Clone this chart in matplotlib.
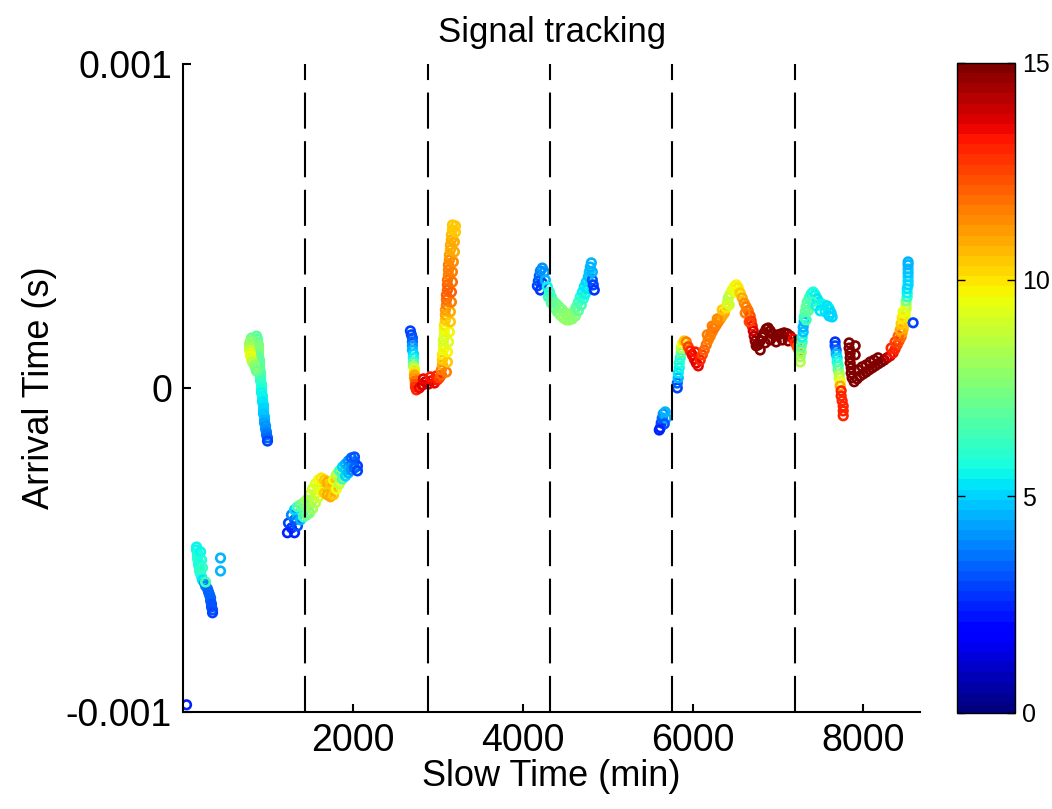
import numpy as np
import matplotlib
matplotlib.use('Agg')
import matplotlib.pyplot as plt
from matplotlib.colors import Normalize
from matplotlib.cm import ScalarMappable

plt.rcParams['font.family'] = ['Liberation Sans', 'DejaVu Sans']
plt.rcParams['lines.scale_dashes'] = False

# tracked arrivals: slow time (min), arrival time (us), snr (colour)
seg1_t = [41]
seg1_us = [-978]
seg1_snr = [2.5]

seg2_t = [159, 159, 171, 171, 171, 182, 182, 194, 194, 206, 218, 229, 253, 265,
          288, 300, 312, 324, 324, 335, 335, 347, 347,
          206, 218, 229, 265, 441, 441]
seg2_us = [-491, -500, -509, -518, -528, -537, -546, -555, -565, -574, -583, -593,
           -602, -611, -620, -630, -639, -648, -657, -667, -676, -685, -694,
           -506, -531, -555, -599, -525, -565]
seg2_snr = [5.5, 5.5, 5.7, 5.8, 6.0, 6.0, 5.8, 5.8, 6.0, 6.0, 6.0, 5.2, 4.2, 3.8,
            3.6, 3.5, 3.5, 3.4, 3.3, 3.2, 3.2, 3.1, 3.0,
            5.6, 5.8, 6.2, 6.5, 4.5, 4.5]

seg3_t = [865, 876, 876, 888, 888, 888, 888, 888, 900, 900, 900, 900, 912, 912,
          912, 912, 924, 924, 924, 924, 935, 935, 935, 947, 947, 947, 947, 959,
          959, 959, 971, 971, 982, 982, 994, 994,
          806, 794, 782, 782, 782, 794, 794, 806, 818, 841, 853, 865]
seg3_us = [160, 151, 142, 133, 123, 114, 105, 96, 86, 77, 68, 59, 49, 40, 31, 22,
           12, 3, -6, -15, -25, -34, -43, -52, -62, -71, -80, -89, -99, -108,
           -117, -127, -136, -145, -154, -164,
           154, 145, 136, 127, 117, 108, 99, 89, 80, 71, 62, 52]
seg3_snr = [7.0, 7.0, 7.2, 7.3, 7.5, 7.5, 7.3, 7.2, 7.0, 7.0, 7.0, 6.8, 6.8, 6.6,
            6.5, 6.3, 6.2, 6.0, 5.8, 5.6, 5.5, 5.4, 5.3, 5.2, 5.1, 5.0, 4.9, 4.8,
            4.6, 4.4, 4.2, 4.0, 3.8, 3.6, 3.3, 3.0,
            7.2, 7.5, 7.8, 8.2, 8.8, 9.2, 9.5, 9.2, 8.5, 7.8, 7.5, 7.2]

seg4_t = [1276, 1312, 1347, 1382, 1418, 1453, 1488, 1524, 1559, 1594, 1629, 1665,
          1700, 1735, 1771, 1806, 1841, 1876, 1912, 1947, 1982, 2018, 2053,
          1241, 1276, 1312, 1347, 1382, 1418, 1453, 1488, 1524, 1559, 1594, 1629,
          1665, 1700, 1735, 1771, 1806, 1841, 1876, 1912, 1947, 1982, 2018,
          1312, 1347, 1382, 1418, 1453, 1488, 1524, 1559, 1594, 1629, 1665, 1700,
          1735, 1771, 1806, 1841, 1876, 1912, 1947, 1982, 2018, 2053, 1229]
seg4_us = [-432, -407, -392, -383, -376, -370, -361, -346, -327, -312, -299, -302,
           -309, -315, -309, -290, -275, -262, -253, -244, -235, -228, -241,
           -417, -392, -376, -367, -361, -355, -346, -330, -312, -296, -284, -278,
           -284, -290, -296, -284, -268, -256, -244, -235, -225, -216, -213,
           -447, -426, -407, -398, -392, -386, -373, -355, -336, -321, -324, -330,
           -336, -330, -312, -296, -281, -272, -262, -253, -247, -256, -447]
seg4_snr = [2.8, 3.5, 4.5, 6.5, 7.3, 7.5, 8.0, 8.5, 9.0, 9.5, 10.0, 10.8, 11.3,
            11.0, 10.0, 9.0, 7.0, 5.5, 4.5, 4.0, 3.5, 3.2, 3.0,
            3.0, 3.8, 5.0, 6.5, 7.2, 7.5, 8.0, 8.5, 9.0, 9.3, 9.5, 10.0, 10.5,
            11.0, 10.5, 9.5, 8.5, 6.5, 5.0, 4.5, 4.0, 3.5, 3.2,
            2.5, 3.2, 4.5, 6.5, 7.2, 7.5, 8.0, 8.5, 9.0, 9.5, 10.5, 11.0, 11.0,
            10.5, 9.5, 8.5, 6.5, 5.0, 4.5, 4.0, 3.5, 3.0, 2.5]

seg5_t = [2676, 2688, 2700, 2700, 2700, 2700, 2712, 2712, 2712, 2712, 2724, 2724,
          2724, 2724, 2735, 2735, 2735, 2747,
          2782, 2818, 2853, 2888, 2923, 2959, 2994, 2829, 2912, 2982, 3018,
          3041, 3041, 3053, 3053, 3053, 3065, 3065, 3065, 3076, 3076, 3076, 3088,
          3088, 3088, 3100, 3100, 3100, 3112, 3112, 3112, 3124, 3124, 3124, 3135,
          3135, 3147, 3147, 3159, 3159, 3171, 3171,
          3100, 3112, 3112, 3124, 3135, 3147, 3147, 3159, 3159, 3171, 3171, 3182,
          3194, 3194, 3206, 3206]
seg5_us = [176, 164, 154, 142, 130, 117, 105, 93, 80, 68, 59, 49, 40, 31, 22, 12,
           3, -6,
           0, 9, 19, 12, 22, 15, 25, 28, 34, 37, 31,
           40, 56, 71, 86, 102, 117, 133, 148, 164, 179, 194, 210, 225, 241, 256,
           272, 287, 302, 318, 333, 349, 364, 380, 395, 410, 426, 441, 457, 472,
           488, 503,
           49, 80, 111, 142, 173, 204, 235, 265, 296, 327, 358, 389, 420, 451,
           481, 500]
seg5_snr = [3.0, 3.0, 3.2, 3.5, 4.0, 4.5, 5.0, 5.5, 6.5, 8.0, 9.0, 10.0, 10.8,
            11.2, 11.8, 12.3, 12.8, 13.0,
            13.5, 13.8, 14.0, 13.8, 13.5, 13.5, 13.2, 13.5, 13.2, 13.0, 12.5,
            12.0, 11.5, 11.0, 10.5, 10.0, 9.5, 9.2, 9.0, 9.2, 9.5, 10.0, 10.5,
            11.0, 11.2, 11.5, 11.8, 12.0, 12.0, 12.0, 11.8, 11.7, 11.5, 11.5,
            11.3, 11.2, 11.0, 11.0, 10.8, 10.7, 10.5, 10.5,
            11.5, 10.5, 9.8, 9.3, 9.8, 10.5, 11.0, 11.5, 12.0, 11.8, 11.5, 11.3,
            11.0, 10.8, 10.5, 10.5]

seg6_t = [4171, 4182, 4194, 4206, 4229, 4253, 4229, 4206, 4265, 4288, 4312, 4335,
          4359, 4394, 4429, 4465, 4500, 4535, 4571, 4606, 4629, 4653, 4676, 4700,
          4723, 4747, 4771, 4782, 4794, 4806,
          4300, 4335, 4371, 4406, 4441, 4476, 4512, 4547, 4582, 4618, 4653, 4688,
          4712, 4735, 4759,
          4818, 4829, 4841, 4818]
seg6_us = [315, 330, 346, 361, 370, 358, 324, 302, 333, 312, 296, 281, 268, 259,
           250, 241, 231, 225, 228, 238, 250, 265, 281, 296, 312, 327, 343, 358,
           373, 386,
           281, 262, 247, 235, 225, 216, 210, 210, 213, 222, 238, 256, 275, 290,
           306,
           333, 318, 302, 358]
seg6_snr = [3.0, 3.2, 3.5, 3.8, 4.2, 4.0, 3.0, 2.8, 4.5, 5.5, 6.0, 6.5, 7.0, 7.2,
            7.3, 7.5, 7.6, 7.8, 7.8, 7.5, 7.0, 6.5, 6.0, 5.5, 5.3, 5.0, 4.8, 4.7,
            4.6, 4.5,
            6.2, 6.8, 7.2, 7.4, 7.6, 7.8, 7.9, 7.9, 7.8, 7.5, 7.0, 6.5, 6.0, 5.5,
            5.2,
            3.2, 3.0, 2.8, 4.5]

seg7_t = [5618, 5629, 5641, 5653, 5676, 5688, 5665, 5606,
          5818, 5818, 5829, 5829, 5841, 5841, 5853, 5865, 5865, 5876, 5900, 5924,
          5947, 5971, 5994, 6018, 6041, 6065, 6029, 6088, 6112,
          6135, 6159, 6182, 6206, 6229, 6253, 6276, 6300, 6324, 6347, 6371, 6171,
          6229, 6288, 6347,
          6394, 6406, 6418, 6441, 6465, 6488, 6512, 6535, 6429, 6500,
          6559, 6582, 6606, 6629, 6653, 6676, 6688, 6700, 6712, 6723, 6735, 6747,
          6618, 6665,
          6771, 6794, 6818, 6841, 6865, 6888, 6912, 6935, 6971, 7006, 7041, 7076,
          7112, 7147, 6794, 6853, 6912, 6982, 7053, 7124,
          7182, 7206, 7229, 7253]
seg7_us = [-123, -108, -93, -80, -74, -93, -111, -130,
           0, 15, 31, 46, 62, 77, 93, 108, 123, 136, 145, 142,
           127, 114, 102, 89, 77, 68, 111, 86, 102,
           117, 133, 148, 160, 173, 185, 194, 204, 213, 222, 231, 164, 191, 213,
           241,
           247, 262, 278, 290, 302, 312, 318, 309, 256, 296,
           293, 278, 262, 250, 238, 222, 207, 191, 176, 160, 145, 130, 231, 204,
           133, 145, 157, 170, 182, 185, 176, 167, 160, 164, 167, 170, 167, 160,
           117, 139, 148, 142, 148, 145,
           151, 139, 127, 114]
seg7_snr = [2.5, 3.0, 3.5, 4.2, 4.5, 4.5, 3.2, 2.5,
            3.0, 3.5, 4.5, 5.2, 5.5, 5.7, 6.0, 7.0, 8.5, 9.5, 10.5, 11.5,
            12.5, 13.0, 13.5, 13.5, 13.8, 13.5, 13.2, 13.0, 12.5,
            12.0, 11.8, 11.5, 11.5, 11.7, 11.8, 11.7, 11.5, 11.3, 11.0, 10.8,
            11.5, 11.5, 11.3, 10.5,
            10.0, 9.0, 8.5, 8.8, 9.2, 9.5, 9.8, 10.0, 9.0, 9.5,
            10.5, 11.0, 11.3, 11.5, 11.8, 12.3, 12.8, 13.3, 13.8, 14.2, 14.6,
            15.0, 11.5, 12.5,
            15, 15, 15, 15, 15, 15, 15, 15, 15, 15, 15, 15, 15, 14.5,
            15, 15, 15, 15, 15, 15,
            13.5, 13.0, 12.3, 11.5]

seg8_t = [7265, 7265, 7276, 7276, 7288, 7288, 7300, 7300, 7312, 7312, 7324, 7335,
          7347, 7371, 7394, 7418, 7441, 7465, 7488, 7512, 7547, 7582, 7606, 7629,
          7641,
          7335, 7359, 7406, 7453, 7500, 7559, 7606]
seg8_us = [80, 96, 111, 127, 142, 157, 173, 188, 204, 219, 235, 250, 265, 278,
           290, 296, 287, 275, 265, 259, 256, 253, 244, 231, 219,
           210, 238, 265, 253, 238, 235, 222]
seg8_snr = [8.5, 8.2, 7.8, 7.2, 6.5, 5.5, 4.8, 4.5, 4.5, 6.0, 6.8, 7.0, 7.0, 6.5,
            6.0, 5.8, 5.5, 5.3, 5.3, 5.5, 5.5, 5.3, 5.2, 5.0, 5.0,
            6.5, 7.0, 6.5, 5.5, 5.3, 5.2, 5.0]

seg9_t = [7676, 7676, 7688, 7688, 7700, 7700, 7712, 7712, 7724, 7724, 7735, 7735,
          7747, 7747, 7759, 7771, 7771, 7771]
seg9_us = [142, 130, 117, 105, 93, 80, 68, 56, 43, 31, 19, 6, -9, -25, -40, -56,
           -71, -86]
seg9_snr = [2.8, 3.0, 3.5, 4.5, 5.3, 5.8, 6.3, 7.0, 8.0, 8.8, 9.5, 11.0, 13.0,
            13.0, 13.0, 13.0, 13.0, 13.0]

seg10_t = [7841, 7841, 7853, 7853, 7853, 7865, 7865, 7876, 7900, 7912, 7912,
           7935, 7971, 8006, 8041, 8076, 8112, 8147, 8182, 8218, 8253, 7947, 7994,
           8041, 8088, 8135, 8182,
           8288, 8324, 8359, 8382, 8406, 8429, 8453, 8465, 8476, 8488, 8488, 8500,
           8500, 8512, 8512, 8512, 8524, 8524, 8524, 8535, 8535, 8535, 8535, 8535,
           8535, 8535, 8335, 8382, 8418, 8441, 8453, 8465, 8476,
           8594]
seg10_us = [139, 123, 108, 93, 77, 62, 46, 31, 19, 130, 102,
            28, 37, 43, 49, 56, 62, 68, 74, 80, 86, 56, 65, 71, 80, 86, 93,
            93, 99, 108, 120, 133, 145, 157, 170, 182, 194, 207, 219, 231, 244,
            256, 268, 281, 293, 306, 318, 330, 343, 355, 367, 380, 389, 123, 142,
            160, 179, 198, 216, 235,
            201]
seg10_snr = [15, 15, 15, 15, 15, 15, 15, 15, 15, 15, 15,
             15, 15, 15, 15, 15, 15, 15, 15, 15, 14.8, 15, 15, 15, 15, 15, 15,
             14.3, 13.8, 13.3, 13.0, 12.6, 12.3, 11.8, 11.2, 10.8, 10.4, 10.0, 9.6,
             9.3, 9.0, 8.5, 7.5, 6.0, 5.5, 5.3, 5.0, 5.0, 5.0, 4.8, 4.8, 4.5, 4.5,
             13.0, 12.5, 12.0, 11.0, 10.5, 10.0, 9.5,
             3.0]

tracks = [(seg1_t, seg1_us, seg1_snr), (seg2_t, seg2_us, seg2_snr),
          (seg3_t, seg3_us, seg3_snr), (seg4_t, seg4_us, seg4_snr),
          (seg5_t, seg5_us, seg5_snr), (seg6_t, seg6_us, seg6_snr),
          (seg7_t, seg7_us, seg7_snr), (seg8_t, seg8_us, seg8_snr),
          (seg9_t, seg9_us, seg9_snr), (seg10_t, seg10_us, seg10_snr)]

# day boundaries (min)
day_marks = [1440, 2880, 4320, 5760, 7200]

cmap = plt.get_cmap('jet', 64)
norm = Normalize(vmin=0, vmax=15)

fig = plt.figure(figsize=(10.52, 8.09), dpi=100)
ax = fig.add_axes([0.174, 0.12, 0.7006, 0.801])
cax = fig.add_axes([0.9097, 0.1187, 0.0551, 0.8035])

for t, us, snr in tracks:
    ax.scatter(t, np.array(us) * 1e-6, s=38, marker='o', facecolors='none',
               edgecolors=cmap(norm(np.array(snr))), linewidths=1.9, zorder=2)

for d in day_marks:
    ax.plot([d, d], [-0.001, 0.001], color='k', lw=1.5, dashes=(26, 9),
            zorder=3, clip_on=False)

ax.set_xlim(0, 8676)
ax.set_ylim(-0.001, 0.001)
ax.set_xticks([2000, 4000, 6000, 8000])
ax.set_yticks([-0.001, 0, 0.001])
ax.set_yticklabels(['-0.001', '0', '0.001'])
ax.tick_params(direction='in', length=6, width=1.5, labelsize=27, pad=8)
for side in ['top', 'right']:
    ax.spines[side].set_visible(False)
for side in ['left', 'bottom']:
    ax.spines[side].set_linewidth(1.5)

ax.set_xlabel('Slow Time (min)', fontsize=26, labelpad=0)
ax.set_ylabel('Arrival Time (s)', fontsize=26, labelpad=6)
ax.set_title('Signal tracking', fontsize=25, pad=16)

sm = ScalarMappable(norm=norm, cmap=cmap)
cb = fig.colorbar(sm, cax=cax, ticks=[0, 5, 10, 15])
cb.outline.set_linewidth(1.0)
cax.tick_params(direction='in', left=True, right=True, length=6, width=1,
                labelsize=18, pad=5)

fig.savefig('out.png', dpi=100)
